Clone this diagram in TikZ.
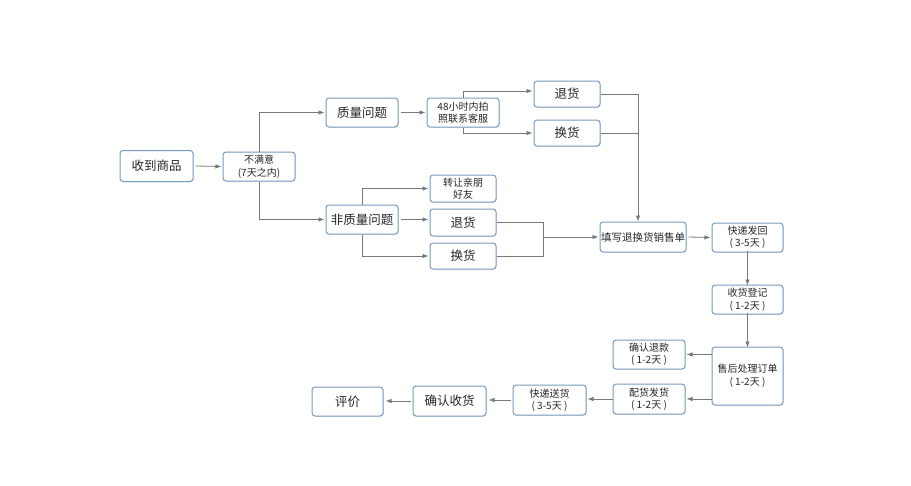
\documentclass[tikz,border=0pt]{standalone}
\usepackage{fontspec}
\setmainfont{Noto Sans CJK SC}
\usetikzlibrary{arrows.meta,shadows}
\definecolor{boxline}{RGB}{120,155,190}
\definecolor{conn}{RGB}{120,120,120}
\tikzset{
  box/.style={draw=boxline, line width=1pt, rounded corners=3pt, fill=white,
    align=center, inner sep=0pt, text=black!85,
    drop shadow={shadow xshift=0.8pt, shadow yshift=-0.8pt, opacity=0.18}},
  big/.style={font=\fontsize{12.5pt}{15pt}\selectfont},
  mid/.style={font=\fontsize{10.5pt}{13pt}\selectfont},
  small/.style={font=\fontsize{10pt}{12.5pt}\selectfont},
  arr/.style={draw=conn, line width=0.8pt, -{Latex[length=6pt,width=4.5pt]}},
  ln/.style={draw=conn, line width=0.8pt}
}
\begin{document}
\begin{tikzpicture}[x=1pt,y=-1pt]
\useasboundingbox (0,0) rectangle (911,485);
\node[box,big,minimum width=73pt,minimum height=31pt] (sp) at (156.5,166) {收到商品};
\node[box,small,minimum width=72pt,minimum height=29pt] (bm) at (259,166.5) {不满意\\(7天之内)};
\node[box,big,minimum width=72pt,minimum height=29pt] (zl) at (362,112.5) {质量问题};
\node[box,big,minimum width=72pt,minimum height=29pt] (fz) at (362,219.5) {非质量问题};
\node[box,small,minimum width=72pt,minimum height=29pt] (h48) at (463,112.5) {48小时内拍\\照联系客服};
\node[box,big,minimum width=66pt,minimum height=26pt] (th1) at (567,94) {退货};
\node[box,big,minimum width=66pt,minimum height=26pt] (hh1) at (567,133) {换货};
\node[box,small,minimum width=66pt,minimum height=27pt] (zr) at (463,188.5) {转让亲朋\\好友};
\node[box,big,minimum width=66pt,minimum height=27pt] (th2) at (463,222.5) {退货};
\node[box,big,minimum width=66pt,minimum height=26pt] (hh2) at (463,256) {换货};
\node[box,mid,minimum width=86pt,minimum height=30pt] (tx) at (643,237) {填写退换货销售单};
\node[box,small,minimum width=71pt,minimum height=29pt] (kf) at (747.5,237.5) {快递发回\\( 3-5天 )};
\node[box,small,minimum width=71pt,minimum height=29pt] (sd) at (747.5,299.5) {收货登记\\( 1-2天 )};
\node[box,small,minimum width=71pt,minimum height=58pt] (sh) at (747.5,376) {售后处理订单\\( 1-2天 )};
\node[box,small,minimum width=72pt,minimum height=29pt] (qr) at (649,354.5) {确认退款\\( 1-2天 )};
\node[box,small,minimum width=72pt,minimum height=30pt] (ph) at (649,399) {配货发货\\( 1-2天 )};
\node[box,small,minimum width=73pt,minimum height=30pt] (ks) at (549.5,400) {快递送货\\( 3-5天 )};
\node[box,big,minimum width=73pt,minimum height=30pt] (qs) at (449.5,401) {确认收货};
\node[box,big,minimum width=71pt,minimum height=29pt] (pj) at (347.5,401.5) {评价};

\coordinate (j1) at (638,94);
\coordinate (j2) at (543,237);

\draw[arr] ([xshift=2pt]sp.east) -- ([xshift=-1pt]bm.west);
\draw[arr] (bm.north) |- ([xshift=-1pt]zl.west);
\draw[arr] (bm.south) |- ([xshift=-1pt]fz.west);
\draw[arr] ([xshift=2pt]zl.east) -- ([xshift=-1pt]h48.west);
\draw[arr] (h48.north) |- ([xshift=-1pt]th1.west|-0,91);
\draw[arr] (h48.south) |- ([xshift=-1pt]hh1.west);
\draw[ln] (th1.east) -- (j1);
\draw[ln] (hh1.east) -- (hh1.east-|j1);
\draw[arr] (j1) -- (j1|-tx.north);
\draw[arr] (fz.north) |- ([xshift=-1pt]zr.west);
\draw[arr] ([xshift=2pt]fz.east) -- ([xshift=-1pt]th2.west|-fz.east);
\draw[arr] (fz.south) |- ([xshift=-1pt]hh2.west);
\draw[ln] (th2.east) -| (j2);
\draw[ln] (hh2.east) -| (j2);
\draw[arr] (j2) -- ([xshift=-1pt]tx.west);
\draw[arr] ([xshift=2pt]tx.east) -- ([xshift=-1pt]kf.west);
\draw[arr] ([yshift=2pt]kf.south) -- ([yshift=-1pt]sd.north);
\draw[arr] ([yshift=2pt]sd.south) -- ([yshift=-1pt]sh.north);
\draw[arr] (sh.west|-qr.east) -- ([xshift=1pt]qr.east);
\draw[arr] (sh.west|-ph.east) -- ([xshift=1pt]ph.east);
\draw[arr] (ph.west) -- ([xshift=1pt]ks.east|-ph.west);
\draw[arr] ([xshift=-2pt]ks.west) -- ([xshift=2pt]qs.east|-ks.west);
\draw[arr] ([xshift=-2pt]qs.west) -- ([xshift=2pt]pj.east|-qs.west);
\end{tikzpicture}
\end{document}
